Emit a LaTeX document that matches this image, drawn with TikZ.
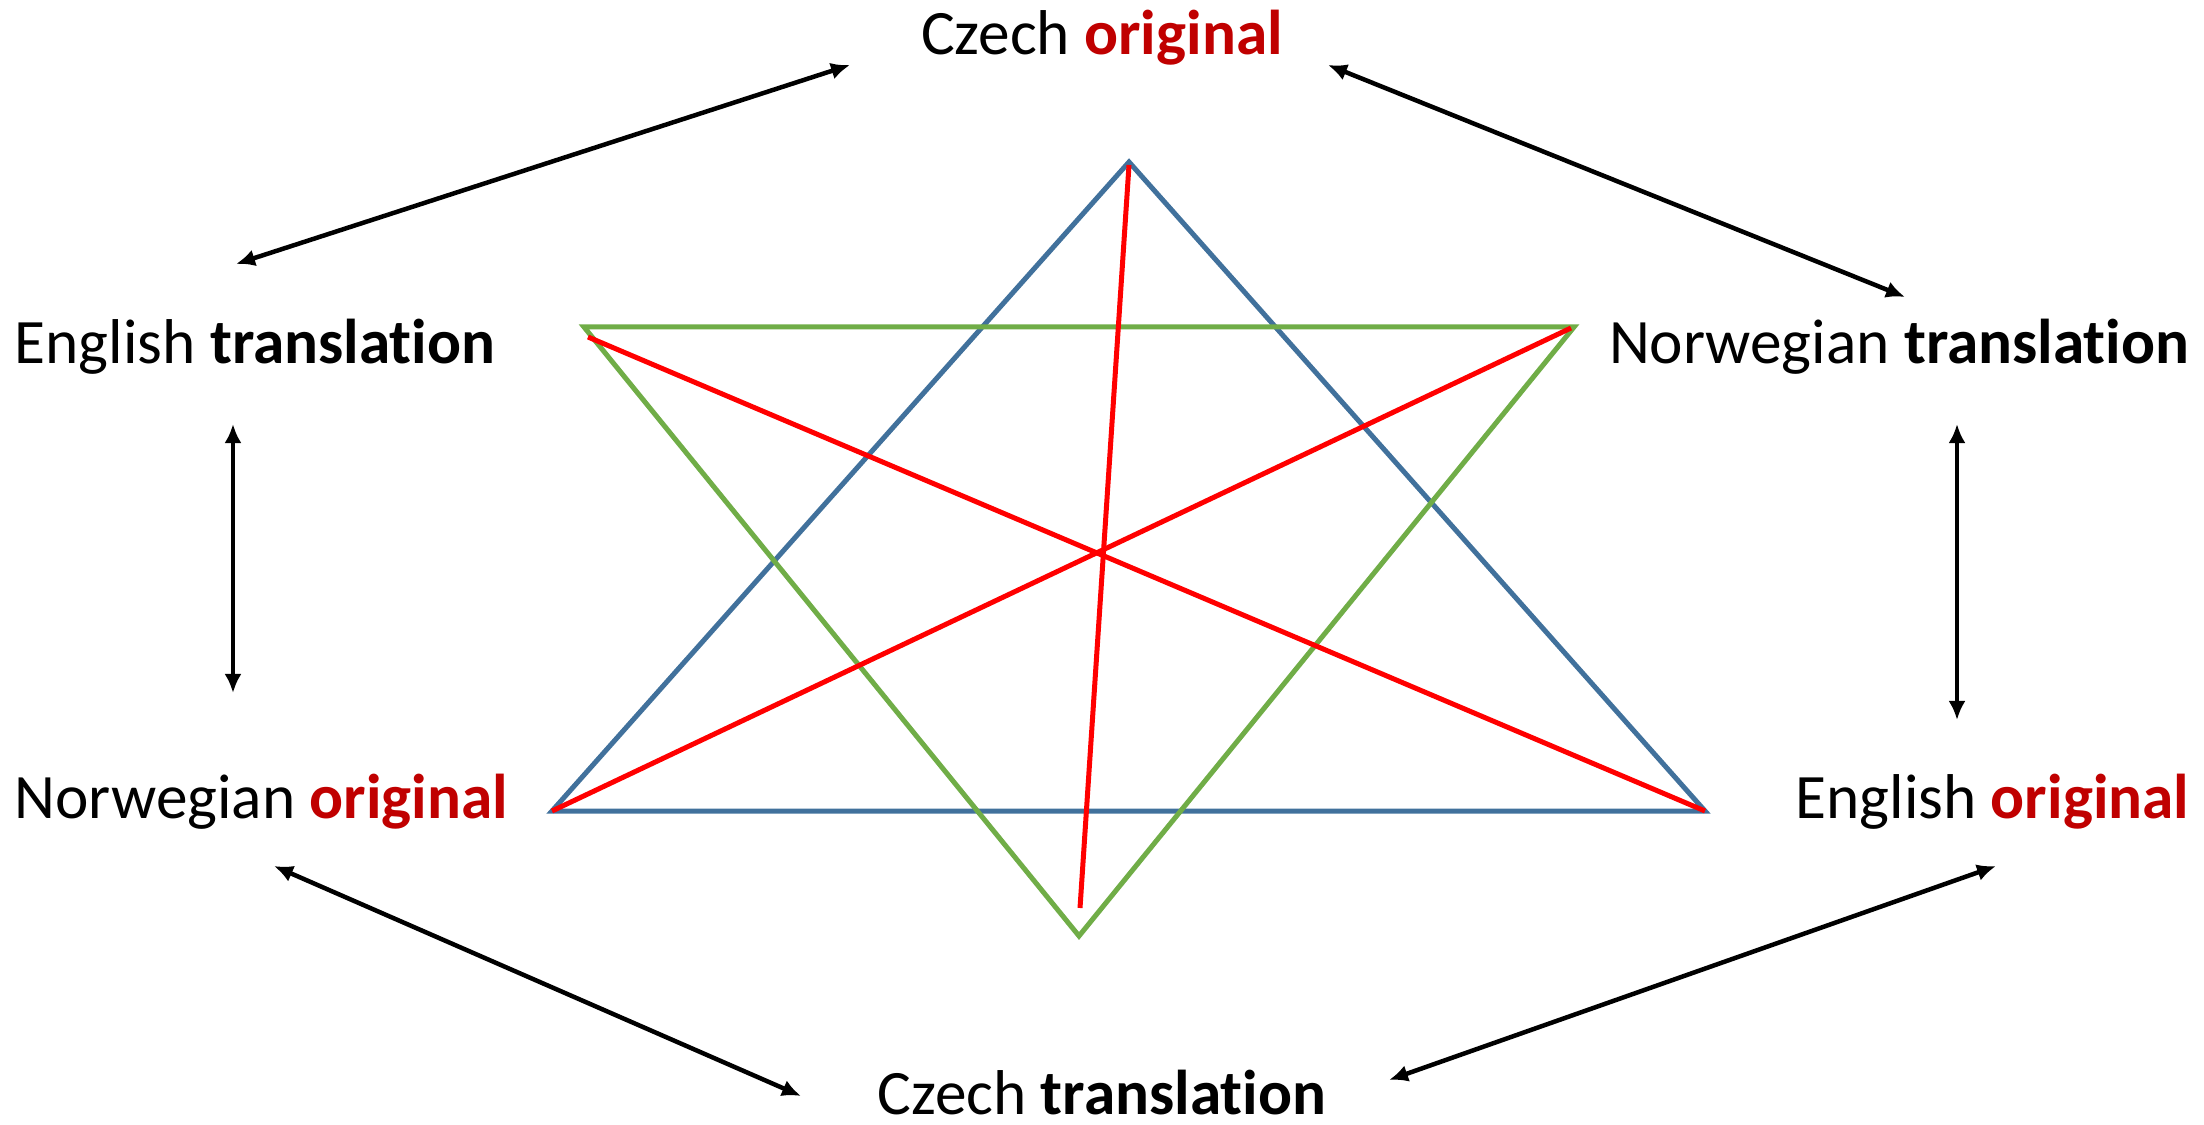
\documentclass[tikz,border=0pt]{standalone}
\usepackage{fontspec}
\setmainfont{Carlito}[Ligatures=NoCommon]
\usetikzlibrary{arrows.meta}
\definecolor{tblue}{RGB}{65,113,156}
\definecolor{tgreen}{RGB}{112,173,71}
\definecolor{tred}{RGB}{255,0,0}
\definecolor{dred}{RGB}{192,0,0}
\begin{document}
\begin{tikzpicture}[x=0.01cm,y=-0.01cm,
  lbl/.style={inner sep=0pt, font=\fontsize{18}{22}\selectfont},
  tri/.style={line width=0.05cm, line join=miter},
  link/.style={line width=0.045cm, {Latex[length=0.19cm,width=0.17cm]}-{Latex[length=0.19cm,width=0.17cm]}}]
\useasboundingbox (0,0) rectangle (2204,1125);
% labels
\node[lbl, anchor=base] (co) at (1102,55) {Czech \textbf{\color{dred}original}};
\node[lbl, anchor=base west] (et) at (14,364) {English \textbf{translation}};
\node[lbl, anchor=base east] (nt) at (2190,364) {Norwegian \textbf{translation}};
\node[lbl, anchor=base west] (no) at (14,818) {Norwegian \textbf{\color{dred}original}};
\node[lbl, anchor=base east] (eo) at (2190,818) {English \textbf{\color{dred}original}};
\node[lbl, anchor=base] (ct) at (1102,1114) {Czech \textbf{translation}};
% arrow end points
\coordinate (a1) at (236,264); \coordinate (a2) at (850,65);
\coordinate (b1) at (1328,65); \coordinate (b2) at (1905,297);
\coordinate (c1) at (233,424); \coordinate (c2) at (233,693);
\coordinate (d1) at (1957,424); \coordinate (d2) at (1957,720);
\coordinate (e1) at (274,866); \coordinate (e2) at (801,1096);
\coordinate (f1) at (1389,1080); \coordinate (f2) at (1996,866);
\draw[link] (a1) -- (a2);
\draw[link] (b1) -- (b2);
\draw[link] (c1) -- (c2);
\draw[link] (d1) -- (d2);
\draw[link] (e1) -- (e2);
\draw[link] (f1) -- (f2);
% triangle vertices
\coordinate (bt) at (1129,162); \coordinate (bl) at (552,811); \coordinate (br) at (1705,811);
\coordinate (gl) at (584,327); \coordinate (gr) at (1574,327); \coordinate (gb) at (1079,936);
\draw[tri, tblue] (bt) -- (bl) -- (br) -- cycle;
\draw[tri, tgreen] (gl) -- (gr) -- (gb) -- cycle;
\coordinate (r1a) at (1129,165); \coordinate (r1b) at (1080,908);
\coordinate (r2a) at (588,337); \coordinate (r3a) at (1571,328);
\draw[tri, tred] (r1a) -- (r1b);
\draw[tri, tred] (r2a) -- (br);
\draw[tri, tred] (r3a) -- (bl);
\end{tikzpicture}
\end{document}
